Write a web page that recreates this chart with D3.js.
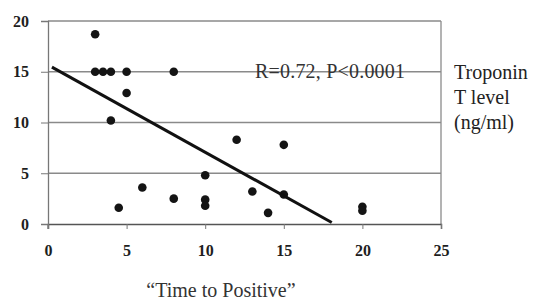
<!DOCTYPE html>
<html>
<head>
<meta charset="utf-8">
<script src="https://cdn.jsdelivr.net/npm/d3@7"></script>
<style>
  html, body { margin: 0; padding: 0; background: #fff; }
  svg { display: block; }
</style>
</head>
<body>
<svg id="chart"></svg>
<script>
// data
const timeToPositive = [3, 3, 3.5, 4, 5, 8, 5, 4, 12, 10, 6, 4.5, 8, 10, 10, 13, 14, 15, 15, 20, 20];
const troponinT = [18.7, 15, 15, 15, 15, 15, 12.9, 10.2, 8.3, 4.8, 3.6, 1.6, 2.5, 2.4, 1.8, 3.2, 1.1, 7.8, 2.9, 1.7, 1.3];
const fitX = [0.25, 18.05];
const fitY = [15.45, 0.15];
const xTicks = [0, 5, 10, 15, 20, 25];
const yTicks = [0, 5, 10, 15, 20];
const statLabel = 'R=0.72, P<0.0001';
const yTitle = ['Troponin', 'T level', '(ng/ml)'];
const xTitle = '\u201CTime to Positive\u201D';

const serif = '"Liberation Serif", "DejaVu Serif", serif';

const svg = d3.select('#chart').attr('width', 535).attr('height', 306);

const x = d3.scaleLinear().domain([0, 25]).range([48, 441]);
const y = d3.scaleLinear().domain([0, 20]).range([224, 21]);

// gridlines
svg.append('g')
  .selectAll('line')
  .data(yTicks.filter(d => d > 0))
  .enter().append('line')
  .attr('x1', x(0)).attr('x2', x(25))
  .attr('y1', d => y(d)).attr('y2', d => y(d))
  .attr('stroke', '#8a8a8a').attr('stroke-width', 1.3);

// right frame
svg.append('line')
  .attr('x1', x(25)).attr('x2', x(25))
  .attr('y1', y(0)).attr('y2', y(20))
  .attr('stroke', '#8a8a8a').attr('stroke-width', 1.3);

// axes
const xAxis = svg.append('g')
  .attr('transform', `translate(0,${y(0)})`)
  .call(d3.axisBottom(x).tickValues(xTicks).tickSize(5).tickPadding(16));
const yAxis = svg.append('g')
  .attr('transform', `translate(${x(0)},0)`)
  .call(d3.axisLeft(y).tickValues(yTicks).tickSize(7).tickPadding(12));

xAxis.select('.domain').attr('stroke', '#555').attr('stroke-width', 1.5);
yAxis.select('.domain').attr('stroke', '#777').attr('stroke-width', 1.3);
svg.selectAll('.tick line').attr('stroke', '#777');
svg.selectAll('.tick text')
  .attr('fill', '#1e1e1e')
  .attr('font-size', 16)
  .attr('font-weight', 'bold')
  .attr('font-family', serif);

// small extension of y axis below x axis
svg.append('line')
  .attr('x1', x(0)).attr('x2', x(0))
  .attr('y1', y(0)).attr('y2', y(0) + 5)
  .attr('stroke', '#777').attr('stroke-width', 1.3);

// points
svg.append('g')
  .selectAll('circle')
  .data(timeToPositive.map((d, i) => [d, troponinT[i]]))
  .enter().append('circle')
  .attr('cx', d => x(d[0]))
  .attr('cy', d => y(d[1]))
  .attr('r', 4.3)
  .attr('fill', '#141414');

// regression line
svg.append('path')
  .datum(fitX.map((d, i) => [d, fitY[i]]))
  .attr('d', d3.line().x(d => x(d[0])).y(d => y(d[1])))
  .attr('stroke', '#111').attr('stroke-width', 3).attr('fill', 'none');

// stat label
svg.append('text')
  .attr('x', 255).attr('y', y(15) + 6)
  .attr('font-family', serif).attr('font-size', 20)
  .attr('fill', '#333')
  .attr('textLength', 150)
  .text(statLabel);

// right-hand y title
svg.append('text')
  .attr('font-family', serif).attr('font-size', 20).attr('fill', '#222')
  .selectAll('tspan')
  .data(yTitle)
  .enter().append('tspan')
  .attr('x', 454)
  .attr('y', (d, i) => 79 + i * 25)
  .text(d => d);

// x title
svg.append('text')
  .attr('x', 221).attr('y', 297)
  .attr('text-anchor', 'middle')
  .attr('font-family', serif).attr('font-size', 20).attr('fill', '#333')
  .text(xTitle);
</script>
</body>
</html>
